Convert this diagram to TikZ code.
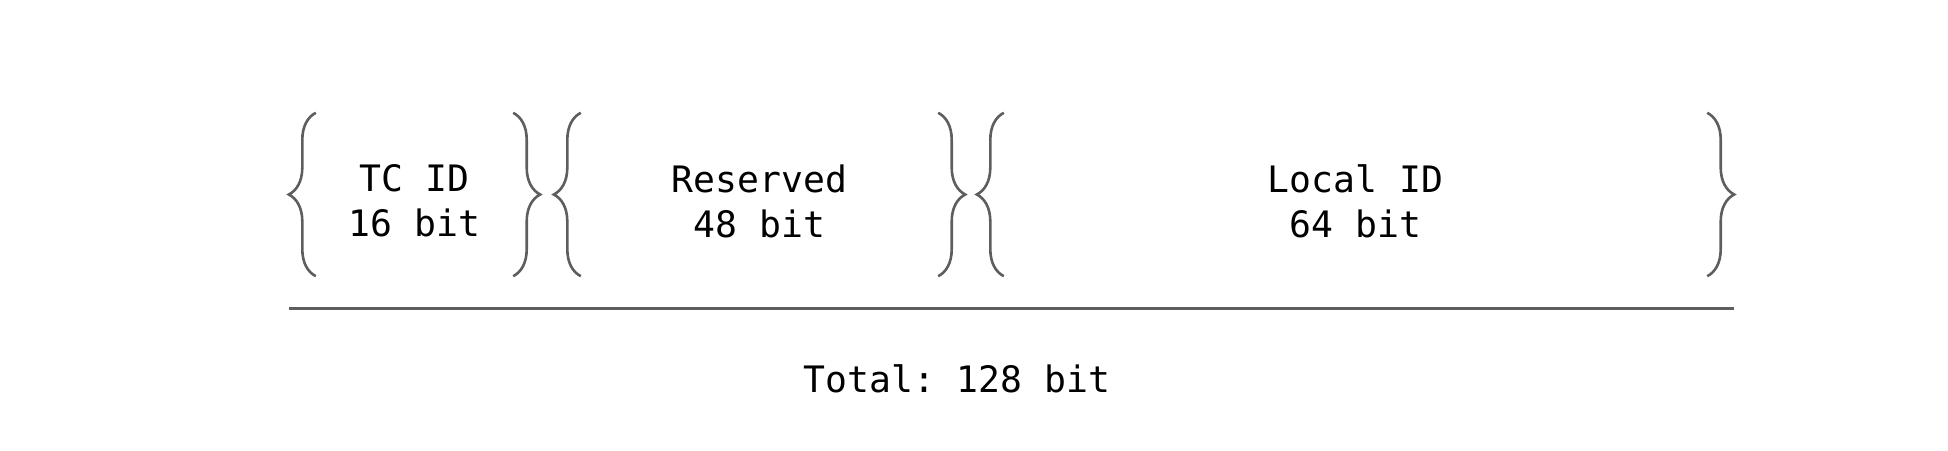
\documentclass[tikz,border=0pt]{standalone}
\usepackage{fontspec}
\setmonofont{DejaVu Sans Mono}
\usepackage{tikz}
\usetikzlibrary{decorations.pathreplacing,calc}
\definecolor{brcgray}{HTML}{5E5E5E}

\begin{document}
\begin{tikzpicture}[x=1pt,y=-1pt,
  field/.style={minimum height=163pt,inner sep=0pt},
  lbl/.style={align=center,font=\ttfamily\fontsize{36.4}{45}\selectfont},
  brc/.style={draw=brcgray,line width=2.6pt,decorate,decoration={brace,amplitude=27pt}}]
\useasboundingbox (0,0) rectangle (1948,450);
\node[field,minimum width=197pt](tcidf) at (414.5,194.5){};
\node[field,minimum width=357pt](resvf) at (759.5,194.5){};
\node[field,minimum width=703pt](localf) at (1355.5,194.5){};
\node[lbl](tcid) at ([yshift=-6.5pt]tcidf.center){TC ID\\16 bit};
\node[lbl](resv) at ([yshift=-6.5pt]resvf.center){Reserved\\48 bit};
\node[lbl](local) at ([yshift=-6.5pt]localf.center){Local ID\\64 bit};
\foreach \f in {tcidf,resvf,localf}{
  \draw[brc](\f.south west)--(\f.north west);
  \draw[brc](\f.north east)--(\f.south east);}
\coordinate (ll) at (289,308);
\coordinate (lr) at (1734,308);
\draw[brcgray,line width=3pt](ll)--(lr);
\node[lbl](total) at (957,379){Total: 128 bit};
\end{tikzpicture}
\end{document}
